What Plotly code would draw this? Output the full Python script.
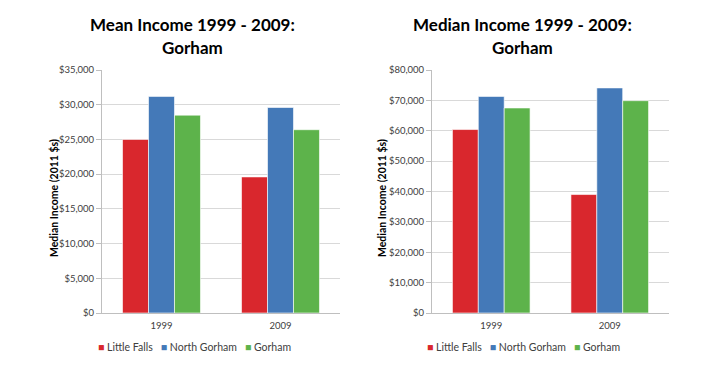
import plotly.graph_objects as go

years = ["1999", "2009"]
series_names = ["Little Falls", "North Gorham", "Gorham"]
colors = ["#D9272D", "#4479B8", "#5DB34B"]

mean_little_falls = [25000, 19600]
mean_north_gorham = [31200, 29600]
mean_gorham = [28500, 26400]

median_little_falls = [60400, 39000]
median_north_gorham = [71300, 74100]
median_gorham = [67500, 69900]

mean_ticks = [0, 5000, 10000, 15000, 20000, 25000, 30000, 35000]
median_ticks = [0, 10000, 20000, 30000, 40000, 50000, 60000, 70000, 80000]

W, H = 712, 372
FONT = "Lato, Carlito, Calibri, sans-serif"

fig = go.Figure()

mean_vals = [mean_little_falls, mean_north_gorham, mean_gorham]
median_vals = [median_little_falls, median_north_gorham, median_gorham]

for name, vals, c in zip(series_names, mean_vals, colors):
    fig.add_trace(go.Bar(x=years, y=vals, name=name, marker_color=c,
                         marker_line=dict(color="rgba(255,255,255,0.6)", width=1),
                         xaxis="x", yaxis="y", showlegend=False))
for name, vals, c in zip(series_names, median_vals, colors):
    fig.add_trace(go.Bar(x=years, y=vals, name=name, marker_color=c,
                         marker_line=dict(color="rgba(255,255,255,0.6)", width=1),
                         xaxis="x2", yaxis="y2", showlegend=False))

def px_x(p):
    return p / W

def px_y(p):
    return 1 - p / H

def money(v):
    return "${:,}".format(v)

ydom = [px_y(313), px_y(70)]
axis_common = dict(showline=True, linecolor="#BFBFBF", linewidth=1, automargin=False,
                   tickfont=dict(family=FONT, size=9.5, color="#404040"))

fig.update_layout(
    width=W, height=H,
    margin=dict(l=0, r=0, t=0, b=0, autoexpand=False),
    paper_bgcolor="white", plot_bgcolor="white",
    barmode="group", bargap=0.345, bargroupgap=0,
    font=dict(family=FONT, color="#000000"),
    showlegend=False,
    xaxis=dict(domain=[px_x(102), px_x(340)], anchor="y", ticks="", ticklabelstandoff=4,
               **axis_common),
    yaxis=dict(domain=ydom, anchor="x", range=[0, 35000], tickvals=mean_ticks,
               ticktext=[money(v) for v in mean_ticks],
               showgrid=True, gridcolor="#D9D9D9",
               ticks="outside", ticklen=5, tickcolor="#BFBFBF", **axis_common),
    xaxis2=dict(domain=[px_x(432), px_x(669)], anchor="y2", ticks="", ticklabelstandoff=4,
                **axis_common),
    yaxis2=dict(domain=ydom, anchor="x2", range=[0, 80000], tickvals=median_ticks,
                ticktext=[money(v) for v in median_ticks],
                showgrid=True, gridcolor="#D9D9D9",
                ticks="outside", ticklen=5, tickcolor="#BFBFBF", **axis_common),
)

annotations = [
    dict(text="<b>Mean Income 1999 - 2009:</b>", x=px_x(192), y=px_y(25)),
    dict(text="<b>Gorham</b>", x=px_x(192), y=px_y(47)),
    dict(text="<b>Median Income 1999 - 2009:</b>", x=px_x(522), y=px_y(25)),
    dict(text="<b>Gorham</b>", x=px_x(522), y=px_y(47)),
]
for a in annotations:
    fig.add_annotation(xref="paper", yref="paper", showarrow=False,
                       xanchor="center", yanchor="middle",
                       font=dict(family=FONT, size=17, color="#000000"), **a)

for xp in (54, 382):
    fig.add_annotation(text="<b>Median Income (2011 $s)</b>", xref="paper", yref="paper",
                       x=px_x(xp), y=px_y(198), showarrow=False, textangle=-90,
                       xanchor="center", yanchor="middle",
                       font=dict(family=FONT, size=10.5, color="#000000"))

legend_text = "&nbsp;&nbsp;&nbsp;".join(
    '<span style="color:{}">■</span> {}'.format(c, n) for n, c in zip(series_names, colors))
for xp in (194, 523):
    fig.add_annotation(text=legend_text, xref="paper", yref="paper",
                       x=px_x(xp), y=px_y(347), showarrow=False,
                       xanchor="center", yanchor="middle",
                       font=dict(family=FONT, size=10.5, color="#404040"))

fig.write_html("out.html", config={"displayModeBar": False},
               post_script="document.body.style.margin='0';")
